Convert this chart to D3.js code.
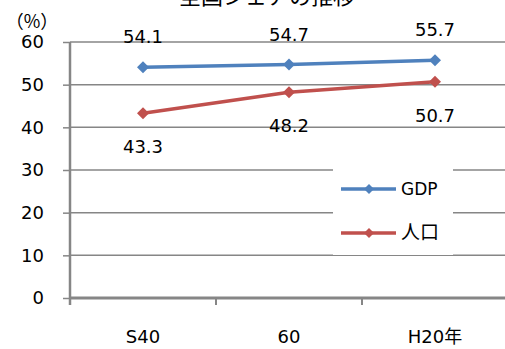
<!DOCTYPE html>
<html>
<head>
<meta charset="utf-8">
<script src="https://cdn.jsdelivr.net/npm/d3@7"></script>
<style>
  html, body { margin: 0; padding: 0; background: #fff; }
  svg { display: block; }
  text { font-family: "DejaVu Sans", "Noto Sans CJK JP", sans-serif; fill: #000; }
</style>
</head>
<body>
<svg id="chart" width="505" height="349"></svg>
<script>
// 全国シェアの推移 — GDP と 人口 の全国に占める割合（%）
const titleText = "全国シェアの推移";
const unitLabel = "（%）";
const categories = ["S40", "60", "H20年"];
const gdpShare = [54.1, 54.7, 55.7];
const popShare = [43.3, 48.2, 50.7];
const yTicks = [0, 10, 20, 30, 40, 50, 60];
const seriesNames = ["GDP", "人口"];
const seriesColors = ["#4F81BD", "#C0504D"];

const svg = d3.select("#chart");
const axisGray = "#868686";

const x = d3.scaleBand().domain(categories).range([70, 508]);
const y = d3.scaleLinear().domain([0, 60]).range([298, 42]);
const cx = d => x(d) + x.bandwidth() / 2;

// title (sits at the very top edge)
svg.append("text")
  .attr("x", 267).attr("y", 4)
  .attr("text-anchor", "middle")
  .style("font-family", "'Noto Sans CJK JP', sans-serif")
  .style("font-size", "22px")
  .text(titleText);

// unit label
svg.append("text")
  .attr("x", 32).attr("y", 28)
  .attr("text-anchor", "middle")
  .style("font-family", "'Noto Sans CJK JP', sans-serif")
  .style("font-size", "18px")
  .text(unitLabel);

// horizontal gridlines
svg.append("g")
  .selectAll("line")
  .data(yTicks.filter(t => t > 0))
  .join("line")
  .attr("x1", 70).attr("x2", 505)
  .attr("y1", d => y(d)).attr("y2", d => y(d))
  .attr("stroke", axisGray).attr("stroke-width", 1.5);

// y axis
const yAxis = svg.append("g")
  .attr("transform", "translate(70,0)")
  .call(d3.axisLeft(y).tickValues(yTicks).tickSize(7).tickPadding(19).tickFormat(d3.format("d")));
yAxis.select(".domain").attr("stroke", axisGray).attr("stroke-width", 2.5)
  .attr("d", `M0,${y(60)}V${y(0) + 7}`);
yAxis.selectAll(".tick line").attr("stroke", axisGray).attr("stroke-width", 1.5);
yAxis.selectAll(".tick text")
  .style("font-size", "18px")
  .style("font-family", "'DejaVu Sans', sans-serif")
  .attr("fill", "#000");

// x axis
const xAxis = svg.append("g")
  .attr("transform", `translate(0,${y(0)})`)
  .call(d3.axisBottom(x).tickSize(0).tickPadding(32));
xAxis.select(".domain").attr("stroke", axisGray).attr("stroke-width", 3)
  .attr("d", "M70,0H505");
xAxis.selectAll(".tick text")
  .style("font-size", "18px")
  .attr("fill", "#000");
xAxis.append("g")
  .selectAll("line")
  .data(categories)
  .join("line")
  .attr("x1", d => x(d)).attr("x2", d => x(d))
  .attr("y1", 0).attr("y2", 7)
  .attr("stroke", axisGray).attr("stroke-width", 2);

// series lines and markers
const diamond = d3.symbol().type(d3.symbolSquare).size(72);
const series = [gdpShare, popShare];
const line = d3.line().x((d, i) => cx(categories[i])).y(d => y(d));

series.forEach((vals, s) => {
  svg.append("path")
    .datum(vals)
    .attr("d", line)
    .attr("fill", "none")
    .attr("stroke", seriesColors[s])
    .attr("stroke-width", 3.5)
    .attr("stroke-linejoin", "round");
  svg.append("g")
    .selectAll("path")
    .data(vals)
    .join("path")
    .attr("d", diamond)
    .attr("transform", (d, i) => `translate(${cx(categories[i])},${y(d)}) rotate(45)`)
    .attr("fill", seriesColors[s]);
});

// value labels: GDP above, 人口 below
svg.append("g")
  .selectAll("text")
  .data(gdpShare)
  .join("text")
  .attr("x", (d, i) => cx(categories[i]))
  .attr("y", d => y(d) - 24)
  .attr("text-anchor", "middle")
  .style("font-size", "18px")
  .text(d => d.toFixed(1));

svg.append("g")
  .selectAll("text")
  .data(popShare)
  .join("text")
  .attr("x", (d, i) => cx(categories[i]))
  .attr("y", d => y(d) + 40)
  .attr("text-anchor", "middle")
  .style("font-size", "18px")
  .text(d => d.toFixed(1));

// legend
const legend = svg.append("g");
legend.append("rect")
  .attr("x", 333).attr("y", 166).attr("width", 120).attr("height", 89)
  .attr("fill", "#fff");
const legendMarker = d3.symbol().type(d3.symbolSquare).size(50);
seriesNames.forEach((name, i) => {
  const ly = 189 + i * 44;
  legend.append("line")
    .attr("x1", 341).attr("x2", 396).attr("y1", ly).attr("y2", ly)
    .attr("stroke", seriesColors[i]).attr("stroke-width", 3.5);
  legend.append("path")
    .attr("d", legendMarker)
    .attr("transform", `translate(369,${ly}) rotate(45)`)
    .attr("fill", seriesColors[i]);
  legend.append("text")
    .attr("x", 401).attr("y", ly + 6)
    .style("font-size", i === 0 ? "17px" : "19px")
    .style("font-family", i === 0 ? "'DejaVu Sans', sans-serif" : "'Noto Sans CJK JP', sans-serif")
    .text(name);
});
</script>
</body>
</html>
